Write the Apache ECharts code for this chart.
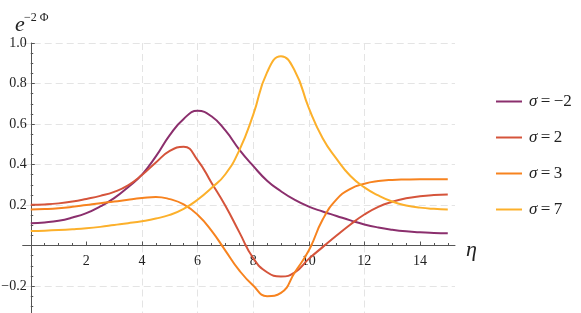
<!DOCTYPE html>
<html>
<head>
<meta charset="utf-8">
<script src="https://cdn.jsdelivr.net/npm/echarts@6/dist/echarts.min.js"></script>
<style>
html,body{margin:0;padding:0;background:#fff;}
#c{width:581px;height:313px;}
</style>
</head>
<body>
<div id="c"></div>
<script>
// ---- data ----
const xs = [0,0.5,1,1.5,2,2.5,3,3.5,4,4.5,5,5.5,6,6.5,7,7.5,8,8.5,9,9.5,10,10.5,11,11.5,12,12.5,13,13.5,14,14.5,15];
const sigmaM2 = [0.110,0.114,0.122,0.138,0.160,0.193,0.234,0.288,0.350,0.440,0.545,0.625,0.665,0.638,0.568,0.474,0.393,0.320,0.268,0.225,0.192,0.168,0.146,0.124,0.104,0.089,0.078,0.070,0.065,0.062,0.060];
const sigma2 = [0.201,0.203,0.208,0.217,0.230,0.245,0.265,0.297,0.348,0.410,0.467,0.488,0.422,0.310,0.196,0.066,-0.062,-0.132,-0.153,-0.133,-0.066,-0.008,0.049,0.104,0.153,0.191,0.216,0.233,0.243,0.249,0.252];
const sigma3 = [0.178,0.180,0.184,0.191,0.200,0.209,0.217,0.226,0.234,0.240,0.229,0.203,0.152,0.074,-0.025,-0.123,-0.198,-0.250,-0.234,-0.132,-0.025,0.128,0.228,0.280,0.305,0.318,0.324,0.326,0.327,0.327,0.327];
const sigma7 = [0.071,0.073,0.076,0.080,0.085,0.092,0.101,0.110,0.120,0.133,0.151,0.181,0.226,0.284,0.352,0.470,0.645,0.855,0.935,0.862,0.680,0.530,0.428,0.343,0.287,0.247,0.217,0.198,0.187,0.181,0.178];
const sigmaNames = ['\u22122','2','3','7'];
const xMajorTicks = [2,4,6,8,10,12,14];
const xMinorTicks = [0.5,1,1.5,2.5,3,3.5,4.5,5,5.5,6.5,7,7.5,8.5,9,9.5,10.5,11,11.5,12.5,13,13.5,14.5,15];

const colors = ['#8b2f6d','#d5543b','#f7831f','#fcb02b'];
const FONT = 'Liberation Serif';
const AX = '#555';
const GRIDC = '#e4e4e4';

const seriesVals = [sigmaM2, sigma2, sigma3, sigma7];
const series = [];
[0, 1].forEach(g => {
  seriesVals.forEach((vals, i) => {
    series.push({
      name: sigmaNames[i],
      type: 'line',
      xAxisIndex: g, yAxisIndex: g,
      symbol: 'none',
      smooth: 0.5,
      clip: true,
      data: xs.map((x, j) => [x, vals[j]]),
      lineStyle: { width: 2, color: colors[i] },
      itemStyle: { color: colors[i] },
      z: 3
    });
  });
});

const xBase = { type: 'value', min: -0.29, max: 15.26, splitNumber: 8 };
const vSplit = { show: true, showMinLine: false, showMaxLine: false, lineStyle: { color: GRIDC, type: [7, 4], width: 1 } };
const ySplit = { show: true, lineStyle: { color: GRIDC, type: [7, 4], width: 1 } };
const yLabelFmt = v => (Math.abs(v) < 1e-9 || v < -0.3) ? '' : (v < 0 ? '\u2212' : '') + Math.abs(v).toFixed(1);

const chart = echarts.init(document.getElementById('c'), null, { renderer: 'canvas' });
chart.setOption({
  animation: false,
  backgroundColor: '#fff',
  grid: [
    { left: 22.7, right: 126, top: 43, height: 202.5, containLabel: false, outerBoundsMode: 'none' },
    { left: 22.7, right: 126, top: 245.5, height: 81, containLabel: false, outerBoundsMode: 'none' }
  ],
  xAxis: [Object.assign({}, xBase, {
    gridIndex: 0, position: 'bottom',
    axisLine: { onZero: false, lineStyle: { color: AX, width: 1 } },
    axisTick: { show: true, inside: true, length: 4, customValues: xMajorTicks, lineStyle: { color: AX } },
    axisLabel: { customValues: xMajorTicks, margin: 9, fontFamily: FONT, fontSize: 14, color: '#222',
      formatter: v => String(v) },
    splitLine: vSplit
  }), Object.assign({}, xBase, {
    gridIndex: 1, position: 'top',
    axisLine: { show: false, onZero: false },
    axisTick: { show: false, customValues: xMajorTicks },
    axisLabel: { show: false },
    splitLine: vSplit
  }), Object.assign({}, xBase, {
    gridIndex: 0, position: 'bottom',
    axisLine: { show: false, onZero: false },
    axisTick: { show: true, inside: true, length: 2.5, customValues: xMinorTicks, lineStyle: { color: AX } },
    axisLabel: { show: false },
    splitLine: { show: false }
  })],
  yAxis: [{
    gridIndex: 0, type: 'value', min: 0, max: 1.0, interval: 0.2,
    axisLine: { onZero: true, lineStyle: { color: AX, width: 1 } },
    axisTick: { show: true, inside: true, length: 4, lineStyle: { color: AX } },
    minorTick: { show: true, splitNumber: 4, length: 2.5, lineStyle: { color: AX } },
    axisLabel: { margin: -4, fontFamily: FONT, fontSize: 14, color: '#222', formatter: yLabelFmt },
    splitLine: ySplit
  }, {
    gridIndex: 1, type: 'value', min: -0.4, max: 0, interval: 0.2,
    axisLine: { onZero: true, lineStyle: { color: AX, width: 1 } },
    axisTick: { show: true, inside: true, length: 4, lineStyle: { color: AX } },
    minorTick: { show: true, splitNumber: 4, length: 2.5, lineStyle: { color: AX } },
    axisLabel: { margin: -4, fontFamily: FONT, fontSize: 14, color: '#222', formatter: yLabelFmt },
    splitLine: ySplit
  }],
  legend: {
    orient: 'vertical', left: 491, top: 88,
    icon: 'rect',
    itemWidth: 26, itemHeight: 2, itemGap: 19,
    data: sigmaNames,
    formatter: name => '{s|\u03c3}{n|\u2009=\u2009' + name + '}',
    textStyle: {
      color: '#222', lineHeight: 17,
      rich: {
        s: { fontFamily: FONT, fontStyle: 'italic', fontSize: 17, lineHeight: 17, padding: [0, 0, 0, 2], color: '#222' },
        n: { fontFamily: FONT, fontSize: 17, lineHeight: 17, color: '#222' }
      }
    }
  },
  graphic: [
    { type: 'text', left: 15, top: 14, style: { text: 'e', font: 'italic 22px "Liberation Serif"', fill: '#222' } },
    { type: 'text', left: 24, top: 12, style: { text: '\u22122 \u03a6', font: '12px "Liberation Serif"', fill: '#222' } },
    { type: 'text', left: 466, top: 239, style: { text: '\u03b7', font: 'italic 22px "Liberation Serif"', fill: '#222' } }
  ],
  series: series
});
</script>
</body>
</html>
